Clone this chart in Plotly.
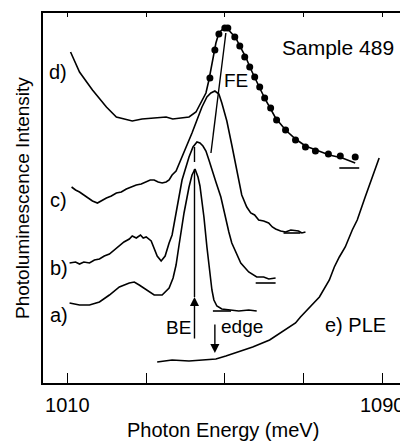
import plotly.graph_objects as go

# ---------------- data (photon energy in meV, intensity in arb. units) -------------
d_E = [1010.83, 1013.11, 1016.40, 1019.94, 1022.47, 1026.51, 1029.0, 1031.57, 1033.4, 1035.11,
       1036.8, 1038.40, 1040.93, 1042.70, 1043.96, 1045.23, 1045.99, 1046.75, 1047.76, 1048.52,
       1049.78, 1050.54, 1051.80, 1052.82, 1053.83, 1055.34, 1056.61, 1057.87, 1059.14, 1060.40,
       1061.67, 1062.93, 1065.46, 1067.99, 1070.52, 1073.05, 1076.59, 1079.88, 1083.16]
d_I = [331, 311, 293, 276, 266, 262, 264, 265, 266, 266,
       264, 265, 266, 271, 280, 290, 303, 320, 340, 350,
       355, 355, 350, 345, 337, 326, 314, 303, 293, 283,
       274, 265, 253, 244, 237, 233, 228, 225, 220]

d_fit_E = [1046.24, 1047.50, 1048.52, 1050.03, 1050.79, 1052.56, 1053.83, 1055.09, 1056.36,
           1057.62, 1058.89, 1060.15, 1061.67, 1063.18, 1065.46, 1067.99, 1070.52, 1073.05,
           1076.34, 1079.37, 1083.16]
d_fit_I = [305, 333, 349, 355, 355, 346, 337, 326, 316,
           306, 296, 285, 275, 263, 253, 243, 236, 232,
           229, 227, 226]

c_E = [1011.09, 1012.10, 1013.11, 1014.12, 1015.13, 1016.40, 1017.66, 1018.93, 1019.94, 1021.20,
       1022.47, 1023.73, 1025.00, 1026.26, 1027.53, 1028.79, 1030.05, 1031.07, 1032.08, 1033.09,
       1034.10, 1035.11, 1035.87, 1036.63, 1037.64, 1039.16, 1040.42, 1041.69, 1042.95, 1044.22,
       1045.48, 1046.49, 1047.50, 1048.52, 1049.27, 1050.54, 1051.80, 1053.07, 1054.33, 1055.60,
       1056.61, 1057.6, 1058.63, 1059.9, 1061.16, 1062.1, 1062.93, 1064.2, 1065.46, 1066.8,
       1068.75, 1069.6, 1070.52]
c_I = [196, 193, 191, 188, 185, 182, 180, 183, 185, 187,
       190, 191, 194, 196, 198, 199, 201, 203, 203, 201,
       200, 201, 203, 208, 212, 226, 237, 250, 263, 276,
       286, 290, 292, 289, 280, 262, 238, 213, 188, 176,
       170, 168, 163, 162, 160, 156, 154, 152, 151, 153,
       152, 150, 151]

b_E = [1010.58, 1012.1, 1013.11, 1014.2, 1015.64, 1016.9, 1018.17, 1019.4, 1020.70, 1021.9,
       1023.23, 1024.4, 1025.76, 1026.5, 1027.53, 1028.6, 1029.3, 1030.05, 1031.32, 1032.08,
       1032.84, 1033.85, 1034.86, 1035.87, 1036.63, 1037.64, 1039.16, 1040.93, 1041.94, 1042.95,
       1043.71, 1044.47, 1045.23, 1045.99, 1046.75, 1047.76, 1049.02, 1050.29, 1051.05, 1051.80,
       1053.07, 1054.08, 1056.10, 1058.13, 1059.90, 1061.2, 1062.93]
b_I = [120, 121, 119, 121, 120, 123, 124, 127, 129, 133,
       137, 141, 144, 147, 145, 148, 145, 146, 142, 135,
       127, 122, 127, 140, 148, 170, 203, 226, 236, 241,
       240, 237, 232, 223, 213, 201, 186, 163, 151, 140,
       128, 120, 111, 106, 106, 104, 105]

a_E = [1010.58, 1013.11, 1015.64, 1018.17, 1020.70, 1023.23, 1025.76, 1027.02, 1028.28, 1030.05,
       1032.08, 1034.10, 1035.87, 1036.88, 1037.64, 1038.40, 1039.66, 1040.93, 1041.69, 1042.45,
       1043.21, 1043.71, 1044.22, 1044.72, 1045.48, 1045.99, 1046.49, 1046.75, 1047.25, 1048.01,
       1049.27, 1051.05, 1053.57, 1056.10, 1058.13]
a_I = [80, 78, 78, 81, 88, 96, 100, 101, 98, 93,
       88, 88, 95, 105, 118, 138, 170, 196, 208, 214,
       206, 197, 183, 166, 136, 116, 103, 93, 83, 77,
       74, 73, 72, 73, 72]

ple_E = [1032.84, 1036.63, 1040.93, 1045.23, 1047.76, 1050.29, 1053.57, 1057.11, 1061.41, 1065.46,
         1067.99, 1069.25, 1071.53, 1074.06, 1076.59, 1077.85, 1079.12, 1080.63, 1082.41, 1083.67,
         1085.69, 1087.46, 1089.24]
ple_I = [21, 23, 22, 23, 24, 27, 31, 36, 43, 53,
         60, 66, 75, 86, 103, 116, 126, 136, 153, 163,
         186, 206, 225]

# zero-level markers of each spectrum
zero_a_E, zero_a_I = [1047.0, 1051.6], 72
zero_b_E, zero_b_I = [1057.87, 1062.93], 100
zero_c_E, zero_c_I = [1064.95, 1069.25], 150
zero_d_E, zero_d_I = [1079.12, 1084.18], 215

# peak-position markers
fe_E, fe_I = [1050.29, 1046.50], [350, 230]
be_E = 1042.32
edge_E = 1047.50

tick_vals = [1010, 1030, 1050, 1070, 1090]
tick_text = ["1010", "", "", "", "1090"]

FONT = "Liberation Sans, Arial, sans-serif"
LW = 1.6

fig = go.Figure()

def line(x, y, w=LW):
    fig.add_trace(go.Scatter(x=x, y=y, mode="lines", line=dict(color="black", width=w),
                             showlegend=False, hoverinfo="skip"))

for ex, iy in [(d_E, d_I), (c_E, c_I), (b_E, b_I), (a_E, a_I), (ple_E, ple_I)]:
    line(ex, iy)

fig.add_trace(go.Scatter(x=d_fit_E, y=d_fit_I, mode="markers",
                         marker=dict(color="black", size=7), showlegend=False, hoverinfo="skip"))

for ze, zi in [(zero_a_E, zero_a_I), (zero_b_E, zero_b_I), (zero_c_E, zero_c_I), (zero_d_E, zero_d_I)]:
    line(ze, [zi, zi])

line(fe_E, fe_I, 1.4)
line([be_E, be_E], [86, 214], 1.4)
line([be_E, be_E], [221, 236], 1.4)

# dummy trace to activate the top axis
fig.add_trace(go.Scatter(x=[None], y=[None], xaxis="x2", showlegend=False, hoverinfo="skip"))

anns = [
    dict(x=be_E, y=86, ax=be_E, ay=43, axref="x", ayref="y", showarrow=True,
         arrowhead=2, arrowsize=1.3, arrowwidth=1.4, arrowcolor="black", text=""),
    dict(x=edge_E, y=30, ax=edge_E, ay=60, axref="x", ayref="y", showarrow=True,
         arrowhead=2, arrowsize=1.3, arrowwidth=1.4, arrowcolor="black", text=""),
]

def label(text, x, y, size=20, xanchor="center"):
    anns.append(dict(text=text, x=x, y=y, xref="x", yref="y", showarrow=False,
                     xanchor=xanchor, yanchor="middle", font=dict(family=FONT, size=size, color="black")))

label("d)", 1007.55, 311)
label("c)", 1007.8, 183)
label("b)", 1007.8, 115)
label("a)", 1007.8, 68)
label("FE", 1052.87, 303, 19)
label("BE", 1038.15, 56, 19)
label("edge", 1054.46, 57, 19)
label("e) PLE", 1083.2, 58, 20)
label("Sample 489", 1078.9, 336, 21)

anns.append(dict(text="Photon Energy (meV)", x=0.5, y=0, xref="paper", yref="paper",
                 yshift=-47, xanchor="center", yanchor="middle", showarrow=False,
                 font=dict(family=FONT, size=20, color="black")))
anns.append(dict(text="Photoluminescence Intensity", x=0, y=0.5, xref="paper", yref="paper",
                 xshift=-21, xanchor="center", yanchor="middle", textangle=-90, showarrow=False,
                 font=dict(family=FONT, size=19, color="black")))

# the page body has an 8 px margin, so the figure is 8 px smaller and margins shifted
xr = [1003.83, 1095.3]
fig.update_layout(
    width=400, height=435,
    margin=dict(l=35, r=3, t=5, b=60),
    paper_bgcolor="white", plot_bgcolor="white",
    font=dict(family=FONT, size=20, color="black"),
    xaxis=dict(range=xr, tickvals=tick_vals, ticktext=tick_text, ticks="inside", ticklen=10,
               tickwidth=1.3, tickcolor="black", showline=True, linecolor="black", linewidth=1.5,
               mirror=True, showgrid=False, zeroline=False, ticklabelstandoff=3,
               tickfont=dict(family=FONT, size=20, color="black")),
    xaxis2=dict(range=xr, overlaying="x", side="top", tickvals=tick_vals, ticks="inside", ticklen=4,
                tickwidth=1.3, tickcolor="black", showticklabels=False, showgrid=False,
                zeroline=False, showline=False),
    yaxis=dict(range=[0, 370], showticklabels=False, ticks="", showline=True, linecolor="black",
               linewidth=1.5, mirror=True, showgrid=False, zeroline=False),
    annotations=anns,
)

fig.write_html("out.html")
